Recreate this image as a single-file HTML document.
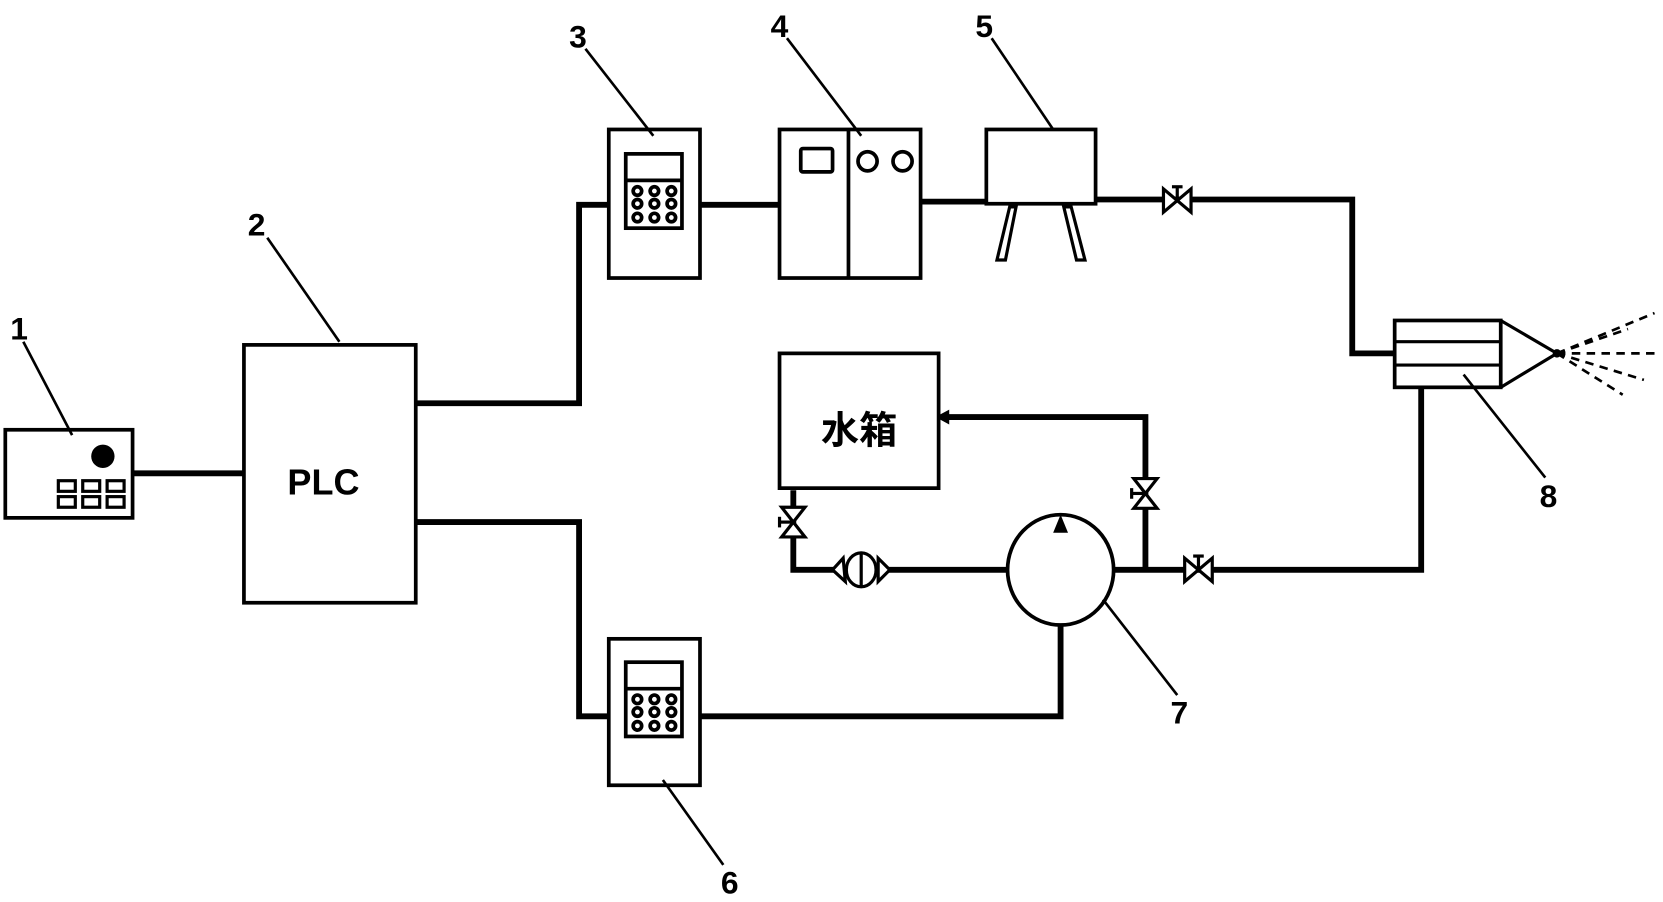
<!DOCTYPE html>
<html><head><meta charset="utf-8"><style>
html,body{margin:0;padding:0;background:#fff;}
svg{display:block;}
text{font-family:"Liberation Sans","Noto Sans CJK SC",sans-serif;fill:#000;}
</style></head><body>
<svg width="1663" height="902" viewBox="0 0 1568 850" preserveAspectRatio="none" xmlns="http://www.w3.org/2000/svg">
<defs>
<g id="valveH">
  <polygon points="-13,-11 -13,11 13,-11 13,11" fill="#fff" stroke="#000" stroke-width="3"/>
  <line x1="0" y1="0" x2="0" y2="-13" stroke="#000" stroke-width="3"/>
  <line x1="-5" y1="-13" x2="5" y2="-13" stroke="#000" stroke-width="3"/>
</g>
<g id="valveV">
  <polygon points="-11,-14 11,-14 -11,14 11,14" fill="#fff" stroke="#000" stroke-width="3"/>
  <line x1="0" y1="0" x2="-13" y2="0" stroke="#000" stroke-width="3"/>
  <line x1="-13" y1="-5" x2="-13" y2="5" stroke="#000" stroke-width="3"/>
</g>
<g id="keypad">
  <rect x="0" y="0" width="53" height="70" fill="#fff" stroke="#000" stroke-width="3.5"/>
  <line x1="0" y1="25" x2="53" y2="25" stroke="#000" stroke-width="3.5"/>
  <g fill="none" stroke="#000" stroke-width="3.5">
    <circle cx="11" cy="35" r="4"/><circle cx="27" cy="35" r="4"/><circle cx="43" cy="35" r="4"/>
    <circle cx="11" cy="47" r="4"/><circle cx="27" cy="47" r="4"/><circle cx="43" cy="47" r="4"/>
    <circle cx="11" cy="60" r="4"/><circle cx="27" cy="60" r="4"/><circle cx="43" cy="60" r="4"/>
  </g>
</g>
</defs>
<g fill="none" stroke="#000" stroke-width="5.5">
  <polyline points="125,446 230,446"/>
  <polyline points="392,380 546,380 546,193 574,193"/>
  <polyline points="392,492 546,492 546,675 574,675"/>
  <polyline points="660,193 735,193"/>
  <polyline points="868,190 930,190"/>
  <polyline points="1033,188 1275,188 1275,333 1315,333"/>
  <polyline points="1340,365 1340,537 1050,537"/>
  <polyline points="1080,537 1080,393 890,393"/>
  <polyline points="950,537 838,537"/>
  <polyline points="788,537 748,537 748,462"/>
  <polyline points="1000,590 1000,675 660,675"/>
</g>
<polygon points="882,393 895,386 895,400" fill="#000"/>
<g fill="#fff" stroke="#000" stroke-width="3.5">
  <rect x="5" y="405" width="120" height="83"/>
  <rect x="230" y="325" width="162" height="243"/>
  <rect x="574" y="122" width="86" height="140"/>
  <rect x="735" y="122" width="133" height="140"/>
  <rect x="930" y="122" width="103" height="70"/>
  <rect x="735" y="333" width="150" height="127"/>
  <rect x="574" y="602" width="86" height="138"/>
  <rect x="1315" y="302" width="100" height="63"/>
  <ellipse cx="1000" cy="537" rx="50" ry="52"/>
</g>
<circle cx="97" cy="430" r="11" fill="#000"/>
<g fill="none" stroke="#000" stroke-width="3">
  <rect x="55" y="453" width="16" height="10"/><rect x="78" y="453" width="16" height="10"/><rect x="101" y="453" width="16" height="10"/>
  <rect x="55" y="468" width="16" height="10"/><rect x="78" y="468" width="16" height="10"/><rect x="101" y="468" width="16" height="10"/>
  <line x1="800" y1="122" x2="800" y2="262" stroke-width="3.5"/>
  <rect x="755" y="140" width="30" height="22" rx="2" stroke-width="3.5"/>
  <circle cx="818" cy="152" r="9" stroke-width="3.5"/><circle cx="851" cy="152" r="9" stroke-width="3.5"/>
  <line x1="1315" y1="322" x2="1415" y2="322"/><line x1="1315" y1="344" x2="1415" y2="344"/>
  <polyline points="1415,302 1468,333 1415,365"/>
  <polygon points="952,195 940,245 948,245 958,195" fill="#fff"/>
  <polygon points="1003,195 1015,245 1023,245 1010,195" fill="#fff"/>
  <line x1="22" y1="322" x2="68" y2="410" stroke-width="2.5"/>
  <line x1="252" y1="224" x2="320" y2="322" stroke-width="2.5"/>
  <line x1="552" y1="46" x2="616" y2="128" stroke-width="2.5"/>
  <line x1="742" y1="36" x2="812" y2="128" stroke-width="2.5"/>
  <line x1="935" y1="36" x2="993" y2="122" stroke-width="2.5"/>
  <line x1="1457" y1="450" x2="1380" y2="353" stroke-width="2.5"/>
  <line x1="1110" y1="655" x2="1040" y2="565" stroke-width="2.5"/>
  <line x1="682" y1="815" x2="625" y2="735" stroke-width="2.5"/>
</g>
<g stroke="#000" stroke-width="2.5" stroke-dasharray="8,6">
  <line x1="1468" y1="333" x2="1560" y2="295"/>
  <line x1="1468" y1="333" x2="1535" y2="310"/>
  <line x1="1468" y1="333" x2="1565" y2="333"/>
  <line x1="1468" y1="333" x2="1550" y2="358"/>
  <line x1="1468" y1="333" x2="1530" y2="372"/>
</g>
<circle cx="1468" cy="333" r="4" fill="#000"/>
<polygon points="1000,485 993,502 1007,502" fill="#000"/>
<g fill="#fff" stroke="#000" stroke-width="3">
  <polygon points="785,537 795,526 797,548"/>
  <ellipse cx="812" cy="537" rx="14" ry="16"/>
  <polygon points="839,537 828,526 828,548"/>
  <line x1="812" y1="521" x2="812" y2="553"/>
</g>
<use href="#keypad" x="590" y="145"/>
<use href="#keypad" x="590" y="624"/>
<use href="#valveH" x="1110" y="189"/>
<use href="#valveH" x="1130" y="537"/>
<use href="#valveV" x="1080" y="465"/>
<use href="#valveV" x="748" y="492"/>
<text x="305" y="466" font-size="34" font-weight="bold" text-anchor="middle">PLC</text>
<text x="810" y="418" font-size="36" font-weight="bold" text-anchor="middle">水箱</text>
<g font-size="30" font-weight="bold" text-anchor="middle">
  <text x="18" y="320">1</text>
  <text x="242" y="222">2</text>
  <text x="545" y="45">3</text>
  <text x="735" y="35">4</text>
  <text x="928" y="35">5</text>
  <text x="688" y="842">6</text>
  <text x="1112" y="682">7</text>
  <text x="1460" y="478">8</text>
</g>
</svg>
</body></html>
